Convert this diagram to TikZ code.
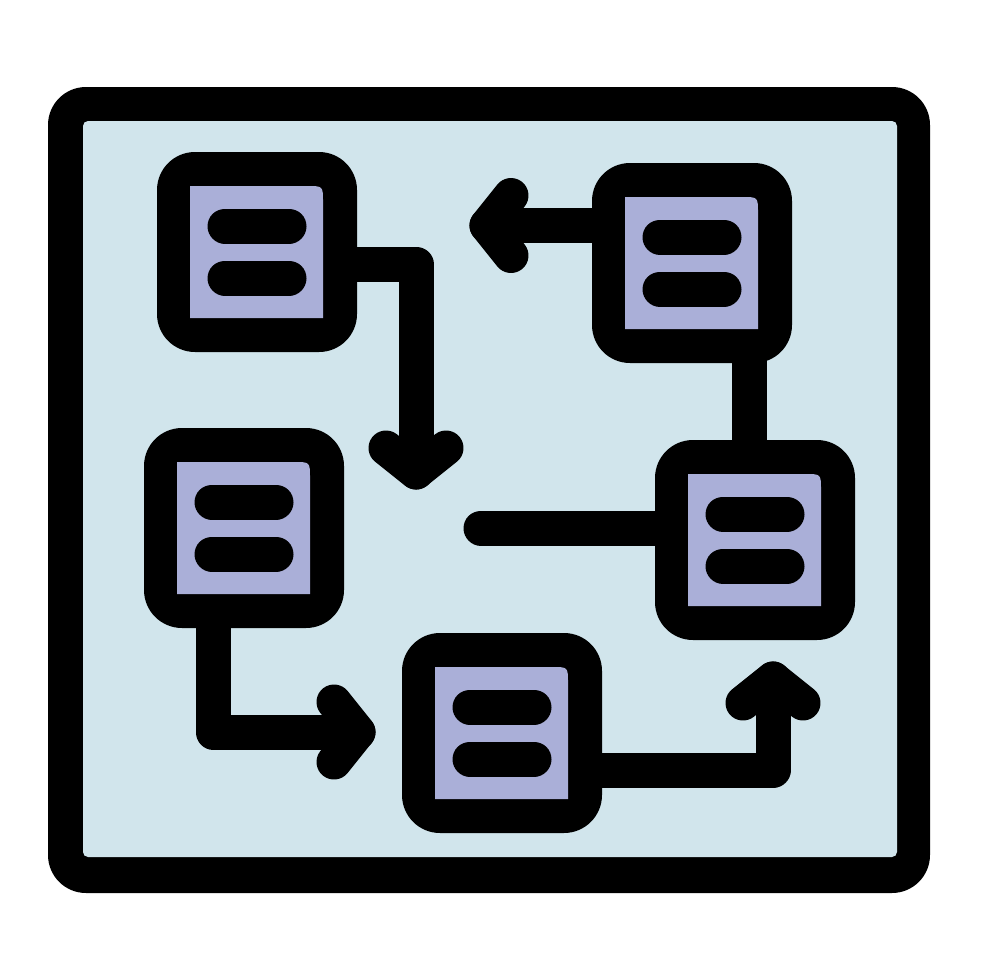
\documentclass[tikz,border=0pt]{standalone}
\usetikzlibrary{calc}
\definecolor{bgblue}{RGB}{209,229,236}
\definecolor{boxpur}{RGB}{170,175,216}
\pgfdeclarelayer{bg}
\pgfsetlayers{bg,main}
\tikzset{
 bx/.style={rectangle, rounded corners=38pt, fill=black, minimum width=200pt, minimum height=200pt, inner sep=0pt},
 conn/.style={line width=35pt, line cap=round, line join=round, draw=black},
 bar/.style={line width=35pt, line cap=round, draw=black},
 pur/.style={fill=boxpur}
}
\newcommand\boxinside[1]{%
 \begin{scope}[shift={(#1.center)}]
  \fill[pur] (-67,66) -- (-67,-66) -- (50,-66) .. controls (66,-66) .. (66,-50) -- (66,66) -- cycle;
  \draw[bar] (-32,-26) -- (32,-26);
  \draw[bar] (-32,26) -- (32,26);
 \end{scope}}
\begin{document}
\begin{tikzpicture}[x=1pt,y=-1pt]
\useasboundingbox (0,0) rectangle (980,980);
\begin{pgfonlayer}{bg}
 \fill[black, rounded corners=38pt] (48,87) rectangle (930,893);
 \fill[bgblue, rounded corners=5pt] (83,121) rectangle (897,857);
\end{pgfonlayer}
% boxes
\node[bx] (b1) at (257,252) {};
\node[bx] (b2) at (692,263) {};
\node[bx] (b3) at (244,528) {};
\node[bx] (b4) at (755,540) {};
\node[bx] (b5) at (502,733) {};
\boxinside{b1}
\boxinside{b2}
\boxinside{b3}
\boxinside{b4}
\boxinside{b5}
% free ends
\coordinate (t1) at (416,472);
\coordinate (t2) at (487,225.5);
\coordinate (t3) at (358,732);
\coordinate (e5) at (481,528);
\coordinate (t6) at (773,679);
\coordinate (c4) at ($(b2.south)+(57.5,0)$);
\begin{pgfonlayer}{bg}
 \draw[conn] ($(b1.east)+(0,12)$) -| (t1);
 \draw[conn] ($(t1)+(-30,-24)$) -- (t1) -- ($(t1)+(30,-24)$);
 \draw[conn] ($(b2.west)+(0,-37.5)$) -- (t2);
 \draw[conn] ($(t2)+(24,-30)$) -- (t2) -- ($(t2)+(24,30)$);
 \draw[conn] ($(b3.south)+(-31,0)$) |- (t3);
 \draw[conn] ($(t3)+(-24,-30)$) -- (t3) -- ($(t3)+(-24,30)$);
 \draw[conn] (c4) -- (c4 |- b4.north);
 \draw[conn] ($(b4.west)+(0,-12)$) -- (e5);
 \draw[conn] ($(b5.east)+(0,37)$) -| (t6);
 \draw[conn] ($(t6)+(-30,24)$) -- (t6) -- ($(t6)+(30,24)$);
\end{pgfonlayer}
\end{tikzpicture}
\end{document}
